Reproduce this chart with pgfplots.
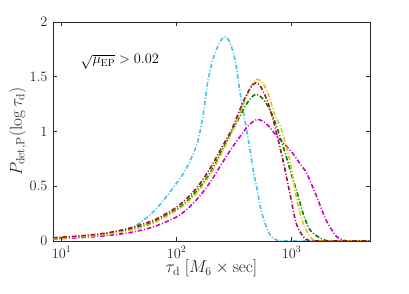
\documentclass[border=0pt]{standalone}
\usepackage{pgfplots}
\pgfplotsset{compat=1.18}
\definecolor{mcyan}{rgb}{0.30,0.75,0.93}
\definecolor{myel}{rgb}{0.85,0.78,0.05}
\definecolor{mgreen}{rgb}{0.0,0.5,0.0}
\definecolor{mmag}{rgb}{0.80,0.0,0.80}
\definecolor{mred}{rgb}{0.64,0.08,0.18}
\definecolor{axgray}{rgb}{0.15,0.15,0.15}
\begin{document}
\begin{tikzpicture}
\useasboundingbox (-53bp,-53bp) rectangle (356bp,241bp);
\begin{axis}[
  at={(0,0)}, anchor=south west,
  scale only axis,
  width=317bp, height=219bp,
  xmode=log, log basis x=10,
  xmin=8.4, xmax=4800,
  ymin=0, ymax=2,
  ytick={0,0.5,1,1.5,2},
  yticklabels={0,0.5,1,1.5,2},
  xtick={10,100,1000},
  axis line style={axgray, line width=0.5pt},
  tick style={axgray, line width=0.5pt},
  major tick length=4bp, minor tick length=2bp,
  tick align=inside,
  tick label style={font=\Large, text=axgray},
  yticklabel style={xshift=-2bp},
  xticklabel style={yshift=-2bp},
  xlabel={$\tau_{\rm d}\;[M_6\times{\rm sec}]$},
  ylabel={$P_{{\rm det},{\rm P}}(\log\tau_{\rm d})$},
  label style={font=\LARGE, text=axgray},
  xlabel style={yshift=5bp},
  ylabel style={yshift=-4bp},
  every axis plot/.append style={line width=1.6pt, dash pattern=on 4.5pt off 2pt on 1pt off 2pt},
]
% cyan
\addplot[mcyan, smooth] coordinates {
(8.4,0.025)(10,0.03)(15.85,0.045)(25.12,0.07)(39.81,0.12)(50.12,0.18)(63.10,0.27)(79.43,0.39)(100,0.53)(114.8,0.62)(131.8,0.74)(151.4,0.90)(169.8,1.15)(186.2,1.45)(204.2,1.64)(223.9,1.76)(245.5,1.84)(263.0,1.865)(281.8,1.84)(309.0,1.73)(331.1,1.58)(354.8,1.36)(380.2,1.18)(407.4,1.0)(436.5,0.82)(467.7,0.62)(501.2,0.47)(524.8,0.344)(562.3,0.22)(602.6,0.13)(645.7,0.06)(691.8,0.025)(758.6,0.005)(831.8,0)(1000,0)(2000,0)(4800,0)
};
% magenta
\addplot[mmag, smooth] coordinates {
(8.4,0.018)(10,0.022)(15.85,0.033)(25.12,0.05)(39.81,0.078)(63.10,0.13)(100,0.22)(125.9,0.30)(158.5,0.41)(199.5,0.55)(251.2,0.72)(316.2,0.88)(371.5,0.98)(416.9,1.05)(501.2,1.11)(602.6,1.07)(741.3,0.96)(891.3,0.87)(1023,0.80)(1175,0.71)(1349,0.62)(1514,0.50)(1660,0.40)(1820,0.29)(1995,0.19)(2239,0.10)(2455,0.04)(2818,0.008)(3162,0)(4800,0)
};
% green
\addplot[mgreen, smooth] coordinates {
(8.4,0.025)(10,0.03)(15.85,0.045)(25.12,0.068)(39.81,0.108)(63.10,0.175)(100,0.29)(125.9,0.375)(158.5,0.49)(199.5,0.64)(251.2,0.84)(316.2,1.04)(354.8,1.14)(398.1,1.24)(446.7,1.31)(489.8,1.34)(549.5,1.31)(631.0,1.22)(707.9,1.10)(794.3,0.95)(891.3,0.78)(1000,0.60)(1096,0.47)(1259,0.25)(1445,0.10)(1778,0.025)(1995,0.005)(2239,0)(4800,0)
};
% yellow
\addplot[myel, smooth] coordinates {
(8.4,0.022)(10,0.026)(15.85,0.04)(25.12,0.062)(39.81,0.10)(63.10,0.165)(100,0.28)(125.9,0.36)(158.5,0.47)(199.5,0.62)(251.2,0.82)(316.2,1.04)(354.8,1.17)(398.1,1.30)(446.7,1.42)(501.2,1.477)(562.3,1.44)(631.0,1.33)(707.9,1.16)(794.3,1.05)(851.1,0.95)(977.2,0.71)(1096,0.40)(1259,0.16)(1445,0.04)(1585,0.003)(1778,0)(4800,0)
};
% red
\addplot[mred, smooth] coordinates {
(8.4,0.03)(10,0.035)(15.85,0.05)(25.12,0.075)(39.81,0.12)(63.10,0.19)(79.43,0.245)(100,0.31)(125.9,0.40)(158.5,0.52)(199.5,0.68)(251.2,0.87)(288.4,0.98)(316.2,1.07)(354.8,1.2)(398.1,1.32)(446.7,1.41)(489.8,1.445)(537.0,1.41)(602.6,1.30)(676.1,1.14)(741.3,0.98)(851.1,0.71)(977.2,0.405)(1096,0.16)(1259,0.04)(1413,0.005)(1585,0)(4800,0)
};
\node[anchor=west, font=\Large, text=black] at (axis cs:13.6,1.64) {$\sqrt{\mu_{\rm EP}} > 0.02$};
\end{axis}
\end{tikzpicture}
\end{document}
